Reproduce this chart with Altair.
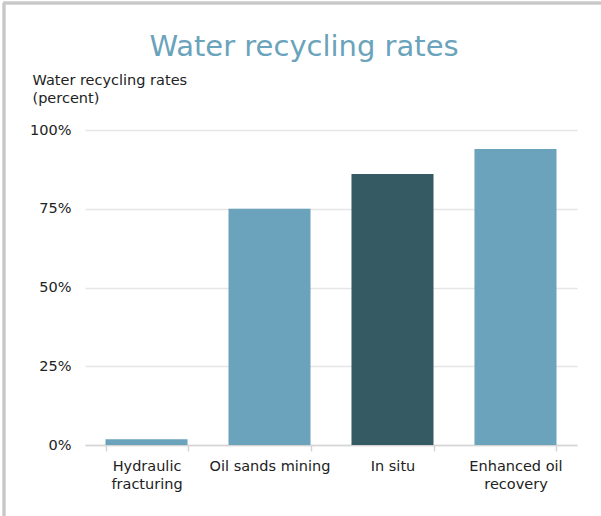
import altair as alt
import pandas as pd

categories = ["Hydraulic fracturing", "Oil sands mining", "In situ", "Enhanced oil recovery"]
values = [0.018, 0.75, 0.86, 0.94]
shade = ["light", "light", "dark", "light"]
y_ticks = [0, 0.25, 0.5, 0.75, 1.0]

df = pd.DataFrame({"category": categories, "value": values, "shade": shade})

label_expr = (
    "datum.label == 'Hydraulic fracturing' ? ['Hydraulic', 'fracturing'] : "
    "datum.label == 'Enhanced oil recovery' ? ['Enhanced oil', 'recovery'] : datum.label"
)

FONT = "DejaVu Sans"
FS = 14.5

bars = alt.Chart(df).mark_bar().encode(
    x=alt.X(
        "category:N",
        sort=categories,
        scale=alt.Scale(paddingInner=0.333, paddingOuter=0.1667),
        axis=alt.Axis(
            title=None,
            labelAngle=0,
            labelExpr=label_expr,
            labelFont=FONT,
            labelFontSize=FS,
            labelColor="#222222",
            labelLineHeight=18,
            labelPadding=8,
            labelBaseline="top",
            tickBand="extent",
            tickSize=6,
            tickColor="#d4d4d4",
            tickWidth=1.5,
            domainColor="#d4d4d4",
            domainWidth=1.5,
            grid=False,
        ),
    ),
    y=alt.Y(
        "value:Q",
        scale=alt.Scale(domain=[0, 1]),
        axis=alt.Axis(
            title=["Water recycling rates", "(percent)"],
            titleAngle=0,
            titleAlign="left",
            titleBaseline="alphabetic",
            titleX=-53,
            titleY=-46,
            titleFont=FONT,
            titleFontSize=FS,
            titleFontWeight="normal",
            titleColor="#222222",
            titleLineHeight=18,
            values=y_ticks,
            format=".0%",
            labelFont=FONT,
            labelFontSize=FS,
            labelColor="#222222",
            labelPadding=14,
            ticks=False,
            domain=False,
            gridColor="#e6e6e6",
            gridWidth=1.5,
        ),
    ),
    color=alt.Color(
        "shade:N",
        scale=alt.Scale(domain=["light", "dark"], range=["#6aa3bb", "#365a63"]),
        legend=None,
    ),
)

border_v = alt.Chart(df).mark_rule(color="#c8c8c8", strokeWidth=2.5).encode(
    x=alt.value(-81), y=alt.value(-127), y2=alt.value(400)
)
border_h = alt.Chart(df).mark_rule(color="#c8c8c8", strokeWidth=2.5).encode(
    x=alt.value(-82), x2=alt.value(540), y=alt.value(-127)
)

chart = alt.layer(bars, border_v, border_h).properties(
    width=492,
    height=315,
    autosize=alt.AutoSizeParams(type="none"),
    padding={"left": 85, "top": 130, "right": 24, "bottom": 71},
    title=alt.TitleParams(
        "Water recycling rates",
        font=FONT,
        fontSize=29,
        fontWeight="normal",
        color="#6aa3bb",
        anchor="middle",
        frame="group",
        baseline="alphabetic",
        dx=-27,
        dy=91,
        offset=8,
    ),
).configure_view(stroke=None)

chart.save("out.html", embed_options={"renderer": "svg", "actions": False})
